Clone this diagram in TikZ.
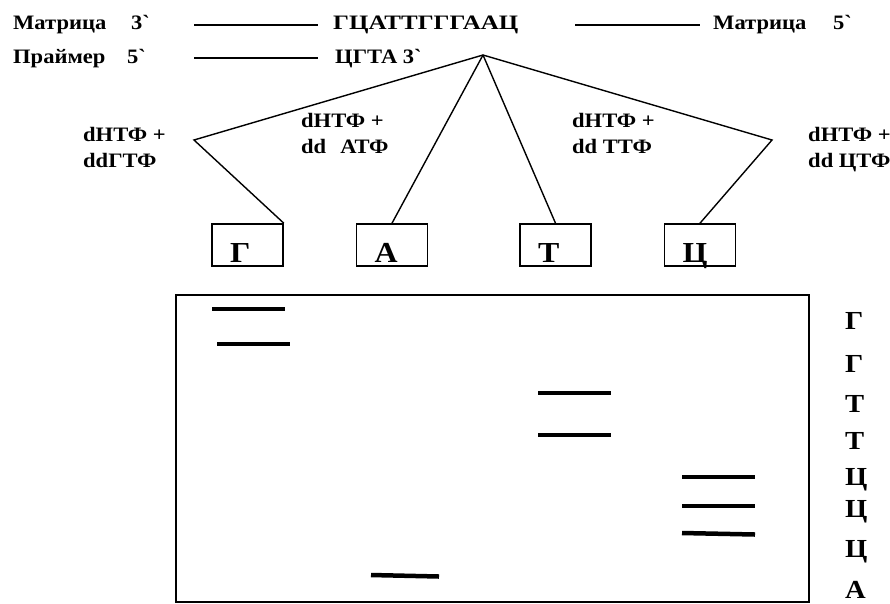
\documentclass[tikz,border=0pt]{standalone}
\usepackage{fontspec}
\setmainfont{Liberation Serif}[Ligatures=TeXOff, FakeStretch=1.1]
\newfontfamily\seqfont{Liberation Serif}[Ligatures=TeXOff, FakeStretch=1.22]
\begin{document}
\begin{tikzpicture}[x=1pt,y=-1pt,
  txt/.style={inner sep=0pt, anchor=base west, font=\fontsize{20.5}{26}\selectfont\bfseries},
  lab/.style={txt, align=left},
  lane/.style={inner sep=0pt, anchor=base west, font=\fontsize{26}{28}\selectfont\bfseries},
  lbox/.style={draw, line width=1.6pt, minimum width=71pt, minimum height=42pt, text width=35pt, inner xsep=18pt, inner ysep=0pt, text height=34pt, text depth=0pt, align=left, font=\fontsize{29}{30}\selectfont\bfseries},
  conn/.style={line width=1.4pt},
  strand/.style={line width=1.3pt},
  band/.style={line width=4.5pt},
  gel/.style={draw, line width=2pt, inner sep=0pt}]
\useasboundingbox (0,0) rectangle (890,603);
% top rows
\node[txt] (mat3) at (13,29.5) {Матрица};
\node[txt] (mat3e) at (131,29.5) {3`};
\coordinate (s1a) at (194,25); \coordinate (s1b) at (318,25);
\draw[strand] (s1a) -- (s1b);
\node[txt, font=\seqfont\bfseries\fontsize{20.5}{26}\selectfont] (seq) at (333,29.5) {ГЦАТТГГГААЦ};
\coordinate (s2a) at (575,25); \coordinate (s2b) at (700,25);
\draw[strand] (s2a) -- (s2b);
\node[txt] (mat5) at (713,29.5) {Матрица};
\node[txt] (mat5e) at (833,29.5) {5`};
\node[txt] (prim) at (13,63) {Праймер};
\node[txt] (prim5) at (127,63) {5`};
\coordinate (s3a) at (194,58); \coordinate (s3b) at (318,58);
\draw[strand] (s3a) -- (s3b);
\node[txt] (pseq) at (335,63) {ЦГТА 3`};
% reaction labels
\node[lab] (lg) at (83,167) {dНТФ +\\ddГТФ};
\node[lab] (la) at (301,153) {dНТФ +\\dd\hspace{14pt}АТФ};
\node[lab] (lt) at (572,153) {dНТФ +\\dd ТТФ};
\node[lab] (lc) at (808,167) {dНТФ +\\dd ЦТФ};
% boxes
\node[lbox] (gbox) at (247.5,245) {Г};
\node[lbox] (abox) at (392,245) {А};
\node[lbox] (tbox) at (555.5,245) {Т};
\node[lbox] (cbox) at (700,245) {Ц};
% connectors
\coordinate (apex) at (483,55);
\coordinate (lbend) at (194,140);
\coordinate (rbend) at (772,140);
\draw[conn] (apex) -- (lbend) -- (gbox.north east);
\draw[conn] (apex) -- (abox.north);
\draw[conn] (apex) -- (tbox.north);
\draw[conn] (apex) -- (rbend) -- (cbox.north);
% gel
\node[gel, minimum width=633pt, minimum height=307pt] (gelbox) at (492.5,448.5) {};
\draw[band] (212,309) -- (285,309);
\draw[band] (217,344) -- (290,344);
\draw[band] (538,393) -- (611,393);
\draw[band] (538,435) -- (611,435);
\draw[band] (682,477) -- (755,477);
\draw[band] (682,506) -- (755,506);
\draw[band] (682,533) -- (755,534.5);
\draw[band] (371,575) -- (439,576.5);
% lane reading
\node[lane] (r1) at (845,329) {Г};
\node[lane] (r2) at (845,372) {Г};
\node[lane] (r3) at (845,412) {Т};
\node[lane] (r4) at (845,449) {Т};
\node[lane] (r5) at (845,485) {Ц};
\node[lane] (r6) at (845,517) {Ц};
\node[lane] (r7) at (845,557) {Ц};
\node[lane] (r8) at (845,598) {А};
\end{tikzpicture}
\end{document}
